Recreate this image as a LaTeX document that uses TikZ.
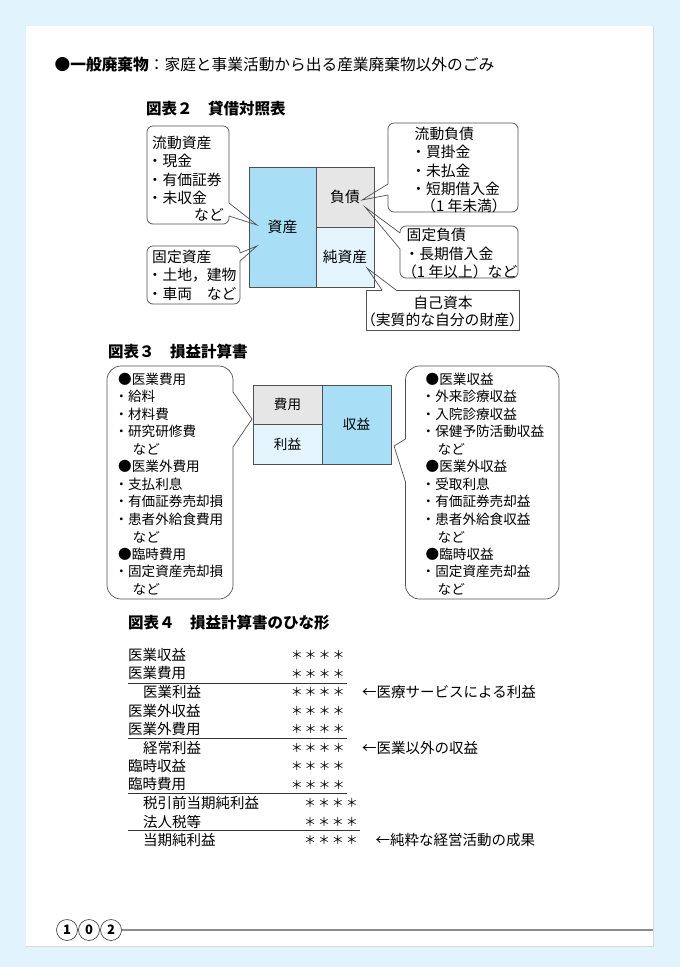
\documentclass[tikz,border=0pt]{standalone}
\usepackage{fontspec}
\setmainfont{Noto Sans CJK JP}

\definecolor{pageblue}{HTML}{E1F3FD}
\definecolor{boxblue}{HTML}{A9DEF7}
\definecolor{boxpale}{HTML}{E3F4FD}
\definecolor{boxgray}{HTML}{E6E6E6}
\definecolor{lineg}{HTML}{505050}

\newcommand\fsT{\fontsize{15.5pt}{18pt}\selectfont}
\newcommand\fsB{\fontsize{14.8pt}{17pt}\selectfont}
\newcommand\fsC{\fontsize{13.6pt}{16pt}\selectfont}
\newcommand\fsD{\fontsize{14.5pt}{17pt}\selectfont}
\newcommand\stars{\makebox[13.9pt]{＊}\makebox[13.9pt]{＊}\makebox[13.9pt]{＊}\makebox[13.9pt]{＊}}

\tikzset{
  cell/.style={draw=lineg, line width=0.8pt, inner sep=0pt, font=\fsB},
  bubble/.style={draw=lineg, line width=0.7pt, rounded corners=6pt},
  bigbubble/.style={bubble, rounded corners=14pt},
  ptr/.style={draw=lineg, line width=0.7pt},
  txtB/.style={anchor=west, inner sep=0pt, font=\fsB},
  txtC/.style={anchor=west, inner sep=0pt, font=\fsC},
  txtD/.style={anchor=west, inner sep=0pt, font=\fsD},
  head/.style={anchor=west, inner sep=0pt, font=\fsT\bfseries},
  starcol/.style={anchor=west, inner sep=0pt, font=\fontsize{12pt}{14pt}\selectfont},
  rule/.style={draw=black!80, line width=0.8pt},
  pagecirc/.style={circle, draw=black!70, line width=0.7pt, minimum size=21pt, inner sep=0pt, font=\fontsize{13pt}{15pt}\selectfont\bfseries},
}

\begin{document}
\begin{tikzpicture}[x=1pt,y=-1pt]
  \useasboundingbox (0,0) rectangle (680,967);
  \fill[pageblue] (0,0) rectangle (680,967);
  \fill[white] (26,26) rectangle (653,946);
  \draw[black!15] (653,26) -- (653,946) -- (26,946);

  % heading line
  \node[anchor=west, inner sep=0pt, font=\fontsize{15.7pt}{18pt}\selectfont] (intro) at (54.5,65)
    {\textbf{●一般廃棄物}：家庭と事業活動から出る産業廃棄物以外のごみ};

  % Figure 2
  \node[head] (t2) at (146,108.3) {図表２　貸借対照表};
  \node[cell, fill=boxblue, minimum width=67pt, minimum height=120pt] (shisan) at (282.5,227) {資産};
  \node[cell, fill=boxgray, minimum width=58pt, minimum height=60pt] (fusai) at (345,197) {負債};
  \node[cell, fill=boxpale, minimum width=58pt, minimum height=60pt] (junshi) at (345,257) {純資産};

  \coordinate (tipA) at (257,225);
  \coordinate (tipB) at (257,246);
  \coordinate (tipC) at (362,200);
  \coordinate (tipD) at (365,207);
  \coordinate (tipE) at (367,268);

  \draw[bubble] (229,216) -- (229,224) -- (147,224) -- (147,126) -- (229,126) -- (229,203);
  \draw[ptr] (229,203) -- (tipA) -- (229,216);
  \draw[bubble] (240,261) -- (240,304) -- (147,304) -- (147,246) -- (240,246) -- (240,253);
  \draw[ptr] (240,253) -- (tipB) -- (240,261);
  \draw[bubble] (388,184) -- (388,123) -- (518,123) -- (518,212) -- (388,212) -- (388,195);
  \draw[ptr] (388,184) -- (tipC) -- (388,195);
  \draw[bubble] (400,249) -- (400,278) -- (518,278) -- (518,226) -- (400,226) -- (400,233);
  \draw[ptr] (400,233) -- (tipD) -- (400,249);
  \draw[ptr] (396,290) -- (519,290) -- (519,330) -- (366,330) -- (366,290) -- (382,290);
  \draw[ptr] (382,290) -- (tipE) -- (396,290);

  \node[txtB] (a1) at (152,142.5) {流動資産};
  \node[txtB] (a2) at (147.5,161) {・現金};
  \node[txtB] (a3) at (147.5,179.5) {・有価証券};
  \node[txtB] (a4) at (147.5,197.5) {・未収金};
  \node[txtB, anchor=east] (a5) at (224,215) {など};

  \node[txtB] (b1) at (152,257) {固定資産};
  \node[txtB] (b2) at (147.5,275.5) {・土地，建物};
  \node[txtB] (b3) at (147.5,294) {・車両　など};

  \node[txtB] (c1) at (414.5,134) {流動負債};
  \node[txtB] (c2) at (411,152.3) {・買掛金};
  \node[txtB] (c3) at (411,170.5) {・未払金};
  \node[txtB] (c4) at (411,188.5) {・短期借入金};
  \node[txtB] (c5) at (421,206) {（1 年未満）};

  \node[txtB] (d1) at (406.5,235) {固定負債};
  \node[txtB] (d2) at (404.3,253.5) {・長期借入金};
  \node[txtB, anchor=east] (d3) at (517.5,272) {（1 年以上）など};

  \node[txtB, anchor=center] (e1) at (443,302.5) {自己資本};
  \node[txtB, anchor=center] (e2) at (442.5,320) {（実質的な自分の財産）};

  % Figure 3
  \node[head] (t3) at (108,351.7) {図表３　損益計算書};
  \node[cell, fill=boxgray, minimum width=69pt, minimum height=39.5pt, font=\fsC] (hiyo) at (287.5,404.75) {費用};
  \node[cell, fill=boxpale, minimum width=69pt, minimum height=39.5pt, font=\fsC] (rieki) at (287.5,444.25) {利益};
  \node[cell, fill=boxblue, minimum width=69pt, minimum height=79pt, font=\fsC] (shueki) at (356.5,424.5) {収益};

  \coordinate (tipL) at (252,419);
  \coordinate (tipR) at (394,446);
  \draw[bigbubble] (233,447) -- (233,599) -- (107,599) -- (107,366) -- (233,366) -- (233,392);
  \draw[ptr] (233,392) -- (tipL) -- (233,447);
  \draw[bigbubble] (405.5,439) -- (405.5,366) -- (559,366) -- (559,599) -- (405.5,599) -- (405.5,482);
  \draw[ptr] (405.5,439) -- (tipR) -- (405.5,482);

  \foreach \x/\t [count=\i] in {118/●医業費用, 114.3/・給料, 114.3/・材料費, 114.3/・研究研修費,
      132.5/など, 118/●医業外費用, 114.3/・支払利息, 114.3/・有価証券売却損, 114.3/・患者外給食費用,
      132.5/など, 118/●臨時費用, 114.3/・固定資産売却損, 132.5/など}
    \node[txtC] (l\i) at (\x,{379.3+17.5*(\i-1)}) {\t};

  \foreach \x/\t [count=\i] in {425.5/●医業収益, 421.5/・外来診療収益, 421.5/・入院診療収益, 421.5/・保健予防活動収益,
      437.5/など, 425.5/●医業外収益, 421.5/・受取利息, 421.5/・有価証券売却益, 421.5/・患者外給食収益,
      437.5/など, 425.5/●臨時収益, 421.5/・固定資産売却益, 437.5/など}
    \node[txtC] (r\i) at (\x,{379.3+17.5*(\i-1)}) {\t};

  % Figure 4
  \node[head] (t4) at (128,622.3) {図表４　損益計算書のひな形};
  \foreach \x/\t [count=\i] in {127.8/医業収益, 127.8/医業費用, 142.8/医業利益, 127.8/医業外収益,
      127.8/医業外費用, 142.8/経常利益, 127.8/臨時収益, 127.8/臨時費用,
      142.8/税引前当期純利益, 142.8/法人税等, 142.8/当期純利益}
    \node[txtD] (k\i) at (\x,{655+18.5*(\i-1)}) {\t};
  \foreach \x [count=\i] in {289.7,289.7,289.7,289.7,289.7,289.7,289.7,289.7,303,303,303}
    \node[starcol] (s\i) at (\x,{655+18.5*(\i-1)}) {\stars};

  \draw[rule] (127.8,683) -- (347,683);
  \draw[rule] (127.8,738.2) -- (347,738.2);
  \draw[rule] (127.8,793.7) -- (347,793.7);
  \draw[rule] (127.8,830.8) -- (360,830.8);

  \node[txtD] (n1) at (362,692) {←医療サービスによる利益};
  \node[txtD] (n2) at (362,747.5) {←医業以外の収益};
  \node[txtD] (n3) at (375.5,840) {←純粋な経営活動の成果};

  % page number
  \foreach \d [count=\i] in {1,0,2}
    \node[pagecirc] (p\i) at ({45+22*\i},930) {\d};
  \draw[black!45, line width=1.2pt] (p3.east) -- (653,930);
\end{tikzpicture}
\end{document}
